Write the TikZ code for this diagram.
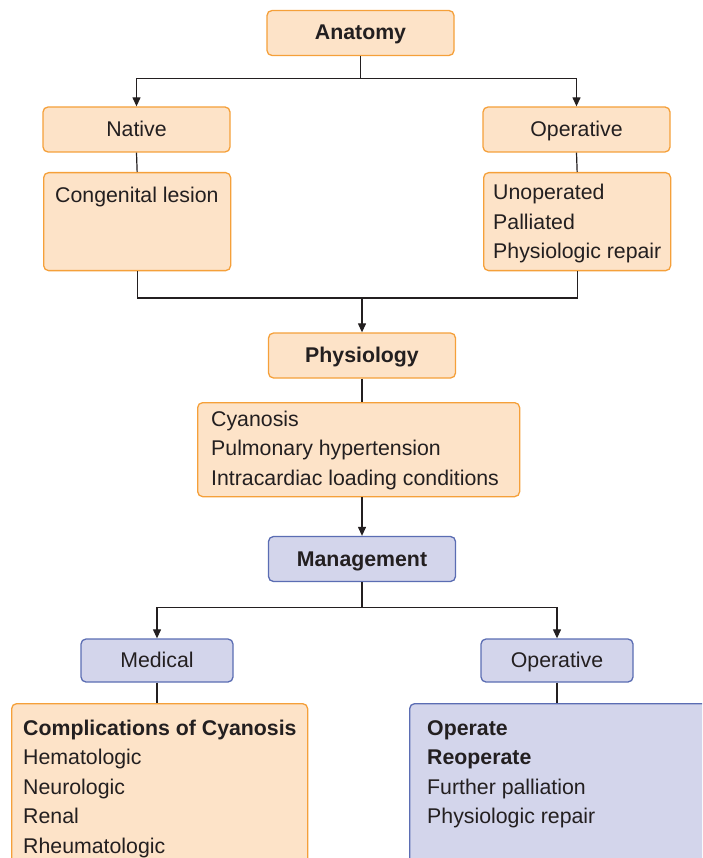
\documentclass[tikz,border=0pt]{standalone}
\usepackage{fontspec}
\setmainfont{Liberation Sans}
\usetikzlibrary{arrows.meta}
\definecolor{peach}{HTML}{FDE3C8}
\definecolor{peachline}{HTML}{F5A03A}
\definecolor{lilac}{HTML}{D3D5EB}
\definecolor{lilacline}{HTML}{5B6DB3}
\definecolor{ink}{HTML}{231F20}
\newcommand\boxfont{\fontsize{21.3}{29.5}\selectfont}
\newcommand\lines[1]{\begin{tabular}[t]{@{}l@{}}#1\end{tabular}}

\begin{document}
\begin{tikzpicture}[x=1pt, y=-1pt,
  every node/.style={text=ink, font=\boxfont},
  bold/.style={font=\boxfont\bfseries},
  box/.style={draw, rounded corners=5pt, line width=1.3pt, inner sep=0pt},
  warm/.style={box, draw=peachline, fill=peach},
  cool/.style={box, draw=lilacline, fill=lilac},
  head/.style={minimum width=187pt, minimum height=45pt, text height=17pt, text depth=3pt},
  sub/.style={minimum width=152pt, minimum height=43pt, text height=17pt, text depth=3pt},
  items/.style={anchor=base west, inner sep=0pt},
  link/.style={draw=ink, line width=1.2pt},
  arrow/.style={link, -{Triangle[length=9pt, width=8pt]}}]
\useasboundingbox (0,0) rectangle (702,858);
\clip (0,0) rectangle (702,858);

\node[warm, head, bold] (anatomy) at (360.5,33) {Anatomy};
\node[warm, head] (native) at (136.5,129.5) {Native};
\node[warm, head] (operative) at (576.5,129.5) {Operative};
\node[warm, minimum width=187pt, minimum height=98pt, anchor=north west] (lesion) at (43,172) {};
\node[items] (lesiontext) at (55,203) {Congenital lesion};
\node[warm, minimum width=187pt, minimum height=98pt, anchor=north west] (history) at (483,172) {};
\node[items] (historytext) at (493,200) {\lines{Unoperated\\Palliated\\Physiologic repair}};

\node[warm, head, bold] (physiology) at (362,355.5) {Physiology};
\node[warm, minimum width=322pt, minimum height=94pt, anchor=north west] (state) at (197,402) {};
\node[items] (statetext) at (211,426) {\lines{Cyanosis\\Pulmonary hypertension\\Intracardiac loading conditions}};

\node[cool, head, bold] (management) at (362,559) {Management};
\node[cool, sub] (medical) at (157,660.5) {Medical};
\node[cool, sub] (surgical) at (557,660.5) {Operative};
\node[warm, minimum width=296pt, minimum height=200pt, anchor=north west] (cyanosis) at (11,703) {};
\node[items] (cyanosistext) at (23,735) {\lines{\textbf{Complications of Cyanosis}\\Hematologic\\Neurologic\\Renal\\Rheumatologic}};
\node[cool, minimum width=320pt, minimum height=200pt, anchor=north west] (repair) at (409,703) {};
\node[items] (repairtext) at (427,735) {\lines{\textbf{Operate}\\\textbf{Reoperate}\\Further palliation\\Physiologic repair}};

\draw[arrow] (anatomy.south) -- ++(0,22) -| (native.north);
\draw[arrow] (anatomy.south) -- ++(0,22) -| (operative.north);
\draw[link] (native.south) -- (lesion.north);
\draw[link] (operative.south) -- (history.north);
\coordinate (merge) at (362,298);
\draw[link] (lesion.south) |- (merge) -| (history.south);
\draw[arrow] (merge) -- (physiology.north);
\draw[link] (physiology.south) -- (physiology.south |- state.north);
\draw[arrow] (management.north |- state.south) -- (management.north);
\draw[arrow] (management.south) -- ++(0,25) -| (medical.north);
\draw[arrow] (management.south) -- ++(0,25) -| (surgical.north);
\draw[link] (medical.south) -- (medical.south |- cyanosis.north);
\draw[link] (surgical.south) -- (surgical.south |- repair.north);
\end{tikzpicture}
\end{document}
